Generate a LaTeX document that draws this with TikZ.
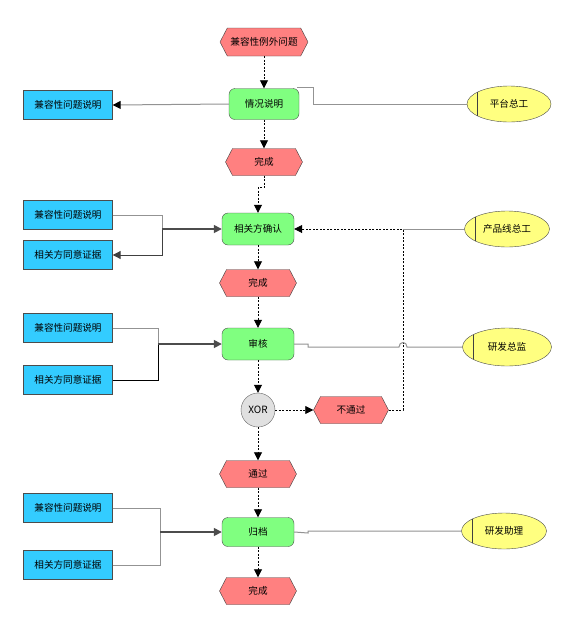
\documentclass[tikz,border=0pt]{standalone}
\usepackage{fontspec}
\newfontfamily\cjk{Noto Sans CJK SC}
\usetikzlibrary{arrows.meta,shapes.symbols,shapes.geometric}

\begin{document}
\begin{tikzpicture}[x=1pt, y=-1pt, >={Triangle[length=8pt,width=8pt]},
  every node/.style={font=\cjk\fontsize{9.6}{11}\selectfont, inner sep=0pt},
  event/.style={signal, signal to=west and east, signal pointer angle=125,
    draw=black!75, fill=evt, minimum width=77pt, minimum height=27pt},
  func/.style={rectangle, rounded corners=6pt, draw=black!70, fill=fnc,
    minimum width=72pt, minimum height=32pt},
  doc/.style={rectangle, draw=black!70, fill=info, minimum width=89pt, minimum height=29pt},
  role/.style={ellipse, draw=black!70, fill=orgu, minimum width=85pt, minimum height=36pt,
    path picture={\draw[black!75, line width=0.8pt]
      ([xshift=10.5pt]path picture bounding box.north west) --
      ([xshift=10.5pt]path picture bounding box.south west);}},
  flow/.style={black, dash pattern=on 2pt off 1.5pt, line width=0.8pt, ->},
  link/.style={gray!85, line width=1pt},
  feed/.style={black!70, line width=1.6pt, ->}]
  \definecolor{evt}{RGB}{255,128,128}
  \definecolor{fnc}{RGB}{128,255,128}
  \definecolor{info}{RGB}{51,204,255}
  \definecolor{orgu}{RGB}{255,255,128}
  \definecolor{gate}{RGB}{224,224,224}

  \useasboundingbox[fill=white] (0,0) rectangle (576,633);

  \node[event, minimum width=88pt, minimum height=28pt] (start) at (264,42) {兼容性例外问题};
  \node[func, minimum width=70pt, minimum height=31pt] (desc) at (264,104) {情况说明};
  \node[event] (doneA) at (264,162) {完成};
  \node[func] (confirm) at (258,229) {相关方确认};
  \node[event] (doneB) at (258,283) {完成};
  \node[func] (review) at (258,344) {审核};
  \node[circle, draw=black!60, fill=gate, minimum width=34pt, minimum height=34pt,
    font=\cjk\fontsize{10}{11}\selectfont] (xor) at (258,410) {XOR};
  \node[event, minimum width=75pt] (fail) at (351,410) {不通过};
  \node[event] (pass) at (258,474) {通过};
  \node[func, minimum height=29pt] (archive) at (258,532) {归档};
  \node[event] (doneC) at (258,591) {完成};

  \node[doc] (infoA) at (68,105) {兼容性问题说明};
  \node[doc] (infoB) at (68,215) {兼容性问题说明};
  \node[doc] (evidB) at (68,255) {相关方同意证据};
  \node[doc] (infoC) at (68,328) {兼容性问题说明};
  \node[doc] (evidC) at (68,380) {相关方同意证据};
  \node[doc] (infoD) at (68,508) {兼容性问题说明};
  \node[doc] (evidD) at (68,565) {相关方同意证据};

  \node[role, minimum width=84pt] (platLead) at (509,104) {平台总工};
  \node[role] (prodLead) at (507,229) {产品线总工};
  \node[role, minimum width=89pt, minimum height=38pt] (devHead) at (507,347) {研发总监};
  \node[role] (devAsst) at (504,531) {研发助理};

  \coordinate (jB) at (162,229);
  \coordinate (jC) at (158,344);
  \coordinate (jD) at (160,532);
  \coordinate (loopR) at (403,229);

  \foreach \a/\b in {start/desc, desc/doneA, confirm/doneB, doneB/review, review/xor,
                     xor/pass, pass/archive, archive/doneC} {
    \draw[flow] (\a.south) -- (\b.north);
  }
  \draw[flow] (doneA.south) -- ++(0,12) -| (confirm.north);
  \draw[flow] (xor.east) -- (fail.west);

  \draw[link] (platLead.west) -- ++(-153,0) |- ([xshift=-2pt,yshift=1pt]desc.north east);
  \draw[link] (prodLead.west) -- (loopR);
  \draw[flow] (fail.east) -| (loopR) -- (confirm.east);
  \draw[link] (devHead.west) -- (407,347) .. controls (407,341) and (399,341) .. (399,347)
    -- (308,347) -- (308,344) -- (review.east);
  \draw[link] (devAsst.west) -- (308,531) -- (308,533) -- (archive.east);

  \draw[link, -{Triangle[length=8pt,width=8pt,black]}] (desc.west) -- (infoA.east);

  \draw[link] (infoB.east) -| (jB);
  \draw[black!75, line width=1pt, ->] (jB) |- (evidB.east);
  \draw[feed] (jB) -- (confirm.west);

  \draw[link] (infoC.east) -| (jC);
  \draw[black, line width=1pt] (evidC.east) -| (jC);
  \draw[feed] (jC) -- (review.west);

  \draw[link] (infoD.east) -| (jD);
  \draw[link] (evidD.east) -| (jD);
  \draw[feed] (jD) -- (archive.west);
\end{tikzpicture}
\end{document}
